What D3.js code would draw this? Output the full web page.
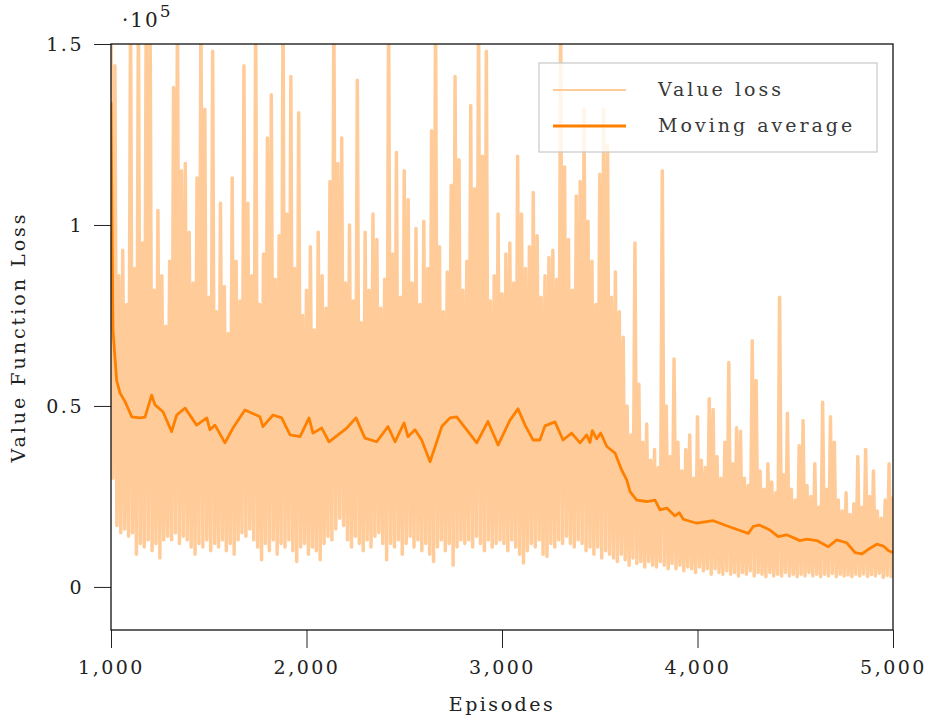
<!DOCTYPE html>
<html>
<head>
<meta charset="utf-8">
<script src="https://cdn.jsdelivr.net/npm/d3@7"></script>
<style>
  body { margin: 0; background: #fff; }
  text { font-family: 'DejaVu Serif', serif; }
</style>
</head>
<body>
<svg id="chart" width="929" height="720"></svg>
<script>
// Raw value loss in thousands in 20-episode steps.
// Each step has its peak (at 1000 + 20i) and its trough (10 episodes later).
const lossHighK = [
  160, 144, 86, 93, 78, 160, 88, 160, 95, 160,
  160, 82, 104, 86, 72, 90, 138, 160, 115, 117,
  98, 84, 113, 160, 132, 80, 148, 76, 106, 83,
  70, 113, 90, 79, 144, 106, 86, 160, 78, 92,
  124, 136, 85, 97, 160, 103, 141, 88, 131, 75,
  82, 94, 71, 98, 86, 77, 112, 160, 117, 124,
  84, 100, 79, 140, 73, 98, 82, 103, 96, 77,
  85, 160, 92, 120, 80, 115, 107, 84, 99, 78,
  101, 88, 126, 160, 94, 76, 87, 111, 141, 118,
  82, 90, 133, 110, 160, 119, 148, 79, 86, 103,
  81, 92, 95, 84, 119, 103, 88, 94, 109, 97,
  80, 86, 91, 93, 85, 160, 116, 96, 82, 108,
  112, 132, 101, 90, 78, 114, 132, 122, 80, 87,
  76, 69, 50, 42, 95, 56, 40, 45, 35, 38,
  33, 115, 50, 36, 63, 40, 32, 38, 42, 30,
  47, 35, 33, 52, 49, 36, 30, 40, 62, 34,
  44, 43, 30, 28, 68, 57, 32, 27, 34, 29,
  26, 80, 31, 48, 27, 24, 39, 46, 28, 25,
  34, 22, 51, 27, 47, 40, 24, 21, 26, 20,
  23, 36, 22, 38, 25, 32, 21, 19, 24, 34
];
const lossLowK = [
  30, 17, 15, 16, 14, 15, 9, 12, 11, 13,
  10, 12, 8, 13, 14, 13, 15, 12, 14, 13,
  11, 9, 12, 11, 13, 10, 12, 11, 13, 10,
  12, 9, 13, 15, 14, 16, 13, 11, 7.5, 12,
  10, 13, 9, 12, 11, 13, 10, 7, 11, 12,
  9, 11, 10, 7.5, 12, 14, 13, 16, 19, 17,
  13, 11, 14, 12, 10, 13, 11, 14, 15, 12,
  7.5, 12, 11, 13, 9, 12, 14, 11, 13, 10,
  12, 9, 7, 11, 13, 10, 12, 6, 11, 13,
  12, 13, 11, 14, 12, 10, 13, 11, 12, 13,
  12, 10, 13, 11, 9, 6.6, 10, 12, 11, 13,
  9, 8.4, 12, 11, 13, 12, 14, 12, 11, 13,
  12, 10, 11, 9, 11, 8, 10, 9, 8, 7,
  9, 7.5, 6, 8, 6.5, 7, 5.5, 7, 6, 5.5,
  7, 6, 5, 6.5, 5, 6, 4.5, 5.5, 5, 4,
  5.5, 4.5, 5, 3.5, 5, 4, 3.5, 4.5, 3.5, 4,
  3, 4, 3.5, 4.5, 3, 4, 3.5, 2.8, 4, 3,
  3.5, 3, 4, 3, 3.5, 2.8, 3.5, 3, 4, 3,
  3.5, 2.8, 3.5, 3, 3.8, 2.8, 3.5, 3, 3.3, 2.8,
  3.5, 3, 3.6, 2.9, 3.4, 3, 3.8, 2.6, 3.2, 2.9
];
const lossEndK = 25;

const maEpisodes = [
  1000, 1010, 1029, 1046, 1072, 1106, 1148, 1174, 1208, 1225,
  1266, 1310, 1336, 1379, 1438, 1490, 1506, 1532, 1583, 1624,
  1685, 1762, 1777, 1829, 1873, 1916, 1967, 2013, 2033, 2078,
  2115, 2206, 2253, 2299, 2359, 2417, 2453, 2499, 2519, 2555,
  2589, 2632, 2692, 2734, 2768, 2801, 2871, 2928, 2980, 3041,
  3082, 3118, 3159, 3194, 3220, 3271, 3312, 3356, 3399, 3433,
  3450, 3462, 3484, 3505, 3536, 3578, 3612, 3638, 3655, 3689,
  3740, 3783, 3808, 3843, 3885, 3907, 3927, 3996, 4081, 4149,
  4217, 4260, 4285, 4316, 4371, 4413, 4456, 4524, 4559, 4610,
  4669, 4712, 4763, 4806, 4840, 4874, 4917, 4951, 4977, 5000
];
const maValues = [
  134000, 71000, 57000, 53600, 51200, 47000, 46700, 46900, 53000, 50300,
  48400, 42900, 47500, 49400, 44700, 46700, 43400, 44700, 39800, 43900,
  48900, 47000, 44300, 47500, 46700, 42000, 41500, 46700, 42500, 43900,
  40100, 43900, 46700, 41100, 40100, 44300, 40100, 45300, 41500, 43400,
  40600, 34600, 44300, 46700, 47000, 44700, 39800, 45700, 39200, 46100,
  49200, 44700, 40600, 40600, 44500, 45600, 40600, 42500, 39800, 42000,
  39900, 43200, 40900, 42500, 38800, 37000, 32300, 29600, 26300, 24000,
  23600, 24000, 21300, 21800, 19600, 20500, 18700, 17600, 18300, 16900,
  15600, 14800, 16700, 17100, 15700, 13900, 14400, 12800, 13200, 12800,
  11100, 13000, 12200, 9500, 9100, 10400, 11800, 11300, 10000, 9500
];

const xTicks = [1000, 2000, 3000, 4000, 5000];
const yTicks = [0, 50000, 100000, 150000];
const yTickLabels = ['0', '0.5', '1', '1.5'];
const legendLabels = ['Value loss', 'Moving average'];

const LIGHT = '#ffcc99';
const DARK = '#ff8000';
const plotLeft = 111, plotRight = 893, plotTop = 44, plotBottom = 630;

const raw = [];
lossHighK.forEach((h, i) => {
  raw.push([1000 + 20 * i, h * 1000]);
  raw.push([1010 + 20 * i, lossLowK[i] * 1000]);
});
raw.push([5000, lossEndK * 1000]);
const ma = maEpisodes.map((e, i) => [e, maValues[i]]);

const svg = d3.select('#chart');
const x = d3.scaleLinear([1000, 5000], [plotLeft, plotRight]);
const y = d3.scaleLinear([-11900, 150000], [plotBottom, plotTop]);

svg.append('defs').append('clipPath').attr('id', 'plot-clip')
  .append('rect')
  .attr('x', plotLeft).attr('y', plotTop)
  .attr('width', plotRight - plotLeft).attr('height', plotBottom - plotTop);

const line = d3.line().x(d => x(d[0])).y(d => y(d[1]));

// the zigzag is drawn wide enough that neighbouring strokes merge into a band
const plot = svg.append('g').attr('clip-path', 'url(#plot-clip)');
plot.append('path')
  .datum(raw)
  .attr('d', line)
  .attr('fill', 'none')
  .attr('stroke', LIGHT)
  .attr('stroke-width', 3.5)
  .attr('stroke-linejoin', 'round');
plot.append('path')
  .datum(ma)
  .attr('d', line)
  .attr('fill', 'none')
  .attr('stroke', DARK)
  .attr('stroke-width', 2.8)
  .attr('stroke-linejoin', 'round');

// axes, ticks point outward only
const xAxis = svg.append('g')
  .attr('transform', `translate(0,${plotBottom})`)
  .call(d3.axisBottom(x).tickValues(xTicks).tickFormat(d3.format(',')).tickSize(18).tickPadding(13));
const yAxis = svg.append('g')
  .attr('transform', `translate(${plotLeft},0)`)
  .call(d3.axisLeft(y).tickValues(yTicks).tickFormat((d, i) => yTickLabels[i]).tickSize(17).tickPadding(10));

[xAxis, yAxis].forEach(g => {
  g.select('.domain').remove();
  g.attr('color', '#222');
  g.selectAll('.tick line').attr('stroke-width', 1);
  g.selectAll('.tick text')
    .attr('font-family', "'DejaVu Serif', serif")
    .attr('font-size', 19)
    .attr('letter-spacing', 2.5)
    .attr('fill', '#222');
});

svg.append('rect')
  .attr('x', plotLeft).attr('y', plotTop)
  .attr('width', plotRight - plotLeft).attr('height', plotBottom - plotTop)
  .attr('fill', 'none')
  .attr('stroke', '#111')
  .attr('stroke-width', 1.3);

// exponent label above the y axis
const expo = svg.append('text')
  .attr('x', 122).attr('y', 27)
  .attr('font-size', 20)
  .attr('letter-spacing', 2)
  .attr('fill', '#222');
expo.append('tspan').text('\u00b710');
expo.append('tspan').attr('dy', -10).attr('font-size', 17).text('5');

svg.append('text')
  .attr('x', (plotLeft + plotRight) / 2).attr('y', 711)
  .attr('text-anchor', 'middle')
  .attr('font-size', 19)
  .attr('letter-spacing', 2.5)
  .attr('fill', '#222')
  .text('Episodes');

svg.append('text')
  .attr('transform', `translate(25,${(plotTop + plotBottom) / 2}) rotate(-90)`)
  .attr('text-anchor', 'middle')
  .attr('font-size', 19)
  .attr('letter-spacing', 3)
  .attr('fill', '#222')
  .text('Value Function Loss');

// legend
const legend = svg.append('g');
legend.append('rect')
  .attr('x', 539).attr('y', 63)
  .attr('width', 338).attr('height', 89)
  .attr('fill', '#fff')
  .attr('fill-opacity', 0.8)
  .attr('stroke', '#cccccc')
  .attr('stroke-width', 1.3);

const legendRows = legend.selectAll('g.row')
  .data(legendLabels)
  .join('g')
  .attr('class', 'row')
  .attr('transform', (d, i) => `translate(0,${90 + i * 36})`);

legendRows.append('line')
  .attr('x1', 553).attr('x2', 626)
  .attr('stroke', (d, i) => (i === 0 ? LIGHT : DARK))
  .attr('stroke-width', (d, i) => (i === 0 ? 2 : 2.8));

legendRows.append('text')
  .attr('x', 658).attr('y', 5.5)
  .attr('font-size', 19)
  .attr('letter-spacing', 3)
  .attr('fill', '#383838')
  .text(d => d);
</script>
</body>
</html>
